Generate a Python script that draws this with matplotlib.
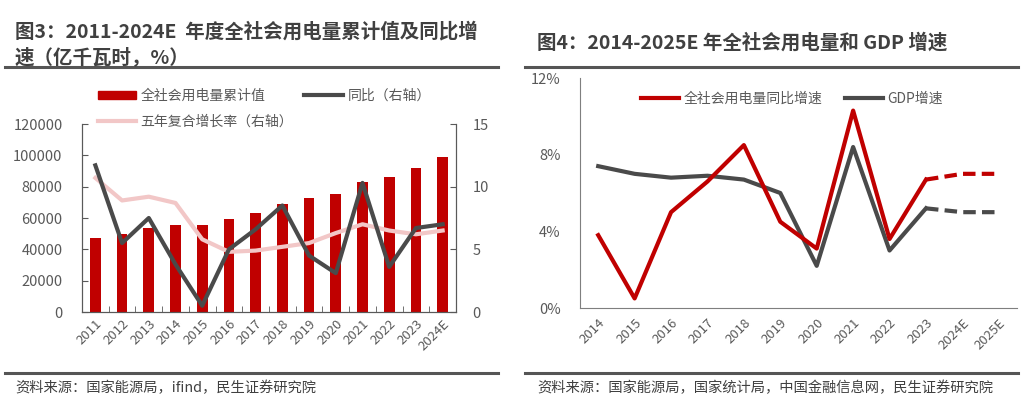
import matplotlib
matplotlib.use("Agg")
import matplotlib.pyplot as plt
from matplotlib.patches import Patch
from matplotlib.lines import Line2D

plt.rcParams['font.family'] = ['Noto Sans CJK SC', 'DejaVu Sans']

# ---- data: left chart (fig 3) ----
years3 = ['2011', '2012', '2013', '2014', '2015', '2016', '2017',
          '2018', '2019', '2020', '2021', '2022', '2023', '2024E']
consumption = [47000, 49600, 53400, 55600, 55800, 59400, 63300,
               68800, 72500, 75100, 83100, 86400, 92200, 99200]
yoy3 = [11.7, 5.5, 7.5, 3.8, 0.5, 5.0, 6.6, 8.5, 4.5, 3.1, 10.3, 3.6, 6.7, 7.0]
cagr5 = [10.7, 8.9, 9.2, 8.7, 5.8, 4.8, 4.9, 5.2, 5.5, 6.3, 7.0, 6.5, 6.2, 6.5]

# ---- data: right chart (fig 4) ----
years4 = ['2014', '2015', '2016', '2017', '2018', '2019', '2020',
          '2021', '2022', '2023', '2024E', '2025E']
power_growth = [3.8, 0.5, 5.0, 6.6, 8.5, 4.5, 3.1, 10.3, 3.6, 6.7, 7.0, 7.0]
gdp_growth = [7.4, 7.0, 6.8, 6.9, 6.7, 6.0, 2.2, 8.4, 3.0, 5.2, 5.0, 5.0]

RED = '#C00000'
DARK = '#4a4a4a'
PINK = '#F2C7C7'
TXT = '#595959'
TITLE = '#404040'

fig = plt.figure(figsize=(10.24, 4.11), dpi=100)

# titles and separator lines
fig.text(15 / 1024, 1 - 32 / 411, '图3：2011-2024E  年度全社会用电量累计值及同比增',
         fontsize=14, fontweight='bold', color=TITLE, va='center')
fig.text(15 / 1024, 1 - 57 / 411, '速（亿千瓦时，%）',
         fontsize=14, fontweight='bold', color=TITLE, va='center')
fig.text(537 / 1024, 1 - 43 / 411, '图4：2014-2025E 年全社会用电量和 GDP 增速',
         fontsize=14, fontweight='bold', color=TITLE, va='center')
for x0, x1 in [(5, 498), (525, 1018)]:
    for y in (67, 373):
        fig.add_artist(Line2D([x0 / 1024, x1 / 1024], [1 - y / 411, 1 - y / 411],
                              color='#555555', lw=2.2))
fig.text(15 / 1024, 1 - 388 / 411, '资料来源：国家能源局，ifind，民生证券研究院',
         fontsize=10.3, color=TITLE, va='center')
fig.text(537 / 1024, 1 - 388 / 411, '资料来源：国家能源局，国家统计局，中国金融信息网，民生证券研究院',
         fontsize=10.3, color=TITLE, va='center')

# ---- left chart ----
ax = fig.add_axes([82 / 1024, 1 - 312 / 411, (456 - 82) / 1024, (312 - 124) / 411])
x3 = list(range(len(years3)))
ax.bar(x3, consumption, width=0.4, color=RED, zorder=1)
ax.set_ylim(0, 120000)
ax.set_yticks(range(0, 120001, 20000))
ax.set_xlim(-0.5, len(years3) - 0.5)
ax.set_xticks(x3)
ax.set_xticklabels(years3, rotation=45, ha='right', rotation_mode='anchor')
ax.set_xticks([i + 0.5 for i in x3[:-1]], minor=True)
ax.tick_params(axis='x', which='major', length=0, pad=4, labelsize=9.5, colors=TXT)
ax.tick_params(axis='x', which='minor', direction='in', length=4, color=TXT)
ax.tick_params(axis='y', direction='in', length=4, labelsize=10.5, colors=TXT, pad=14)
ax.spines['top'].set_visible(False)
for s in ('left', 'bottom', 'right'):
    ax.spines[s].set_color(TXT)

ax2 = ax.twinx()
ax2.plot(x3, cagr5, color=PINK, lw=3, zorder=2)
ax2.plot(x3, yoy3, color=DARK, lw=3, zorder=3)
ax2.set_ylim(0, 15)
ax2.set_yticks([0, 5, 10, 15])
ax2.tick_params(axis='y', direction='in', length=4, labelsize=10.5, colors=TXT, pad=12)
ax2.spines['top'].set_visible(False)
for s in ('left', 'bottom', 'right'):
    ax2.spines[s].set_color(TXT)

handles3 = [Patch(color=RED), Line2D([], [], color=PINK, lw=3), Line2D([], [], color=DARK, lw=3)]
labels3 = ['全社会用电量累计值', '五年复合增长率（右轴）', '同比（右轴）']
fig.legend(handles3, labels3, ncol=2, frameon=False, fontsize=10,
           labelcolor=TXT, handlelength=2.8, handleheight=0.5, handletextpad=0.3,
           columnspacing=0.8, labelspacing=0.85,
           loc='upper left', bbox_to_anchor=(85 / 1024, 1 - 76 / 411))

# ---- right chart ----
bx = fig.add_axes([580 / 1024, 1 - 308 / 411, (1017 - 580) / 1024, (308 - 78) / 411])
x4 = list(range(len(years4)))
k = years4.index('2023')
bx.plot(x4[:k + 1], power_growth[:k + 1], color=RED, lw=3, zorder=3)
bx.plot(x4[k:], power_growth[k:], color=RED, lw=3, ls=(0, (3, 1.5)), zorder=3)
bx.plot(x4[:k + 1], gdp_growth[:k + 1], color=DARK, lw=3, zorder=2)
bx.plot(x4[k:], gdp_growth[k:], color=DARK, lw=3, ls=(0, (3, 1.5)), zorder=2)
bx.set_ylim(0, 12)
bx.set_yticks([0, 4, 8, 12])
bx.set_yticklabels(['0%', '4%', '8%', '12%'])
bx.set_xlim(-0.5, len(years4) - 0.5)
bx.set_xticks(x4)
bx.set_xticklabels(years4, rotation=45, ha='right', rotation_mode='anchor')
bx.tick_params(axis='both', length=0, labelsize=10.5, colors=TXT)
bx.tick_params(axis='x', pad=6, labelsize=9.5)
bx.tick_params(axis='y', pad=14)
bx.spines['top'].set_visible(False)
bx.spines['right'].set_visible(False)
for s in ('left', 'bottom'):
    bx.spines[s].set_color('#7f7f7f')

handles4 = [Line2D([], [], color=RED, lw=3), Line2D([], [], color=DARK, lw=3)]
labels4 = ['全社会用电量同比增速', 'GDP增速']
fig.legend(handles4, labels4, ncol=2, frameon=False, fontsize=10,
           labelcolor=TXT, handlelength=2.8, handletextpad=0.3, columnspacing=1.6,
           loc='upper left', bbox_to_anchor=(628 / 1024, 1 - 79 / 411))

fig.savefig('out.png', dpi=100)
